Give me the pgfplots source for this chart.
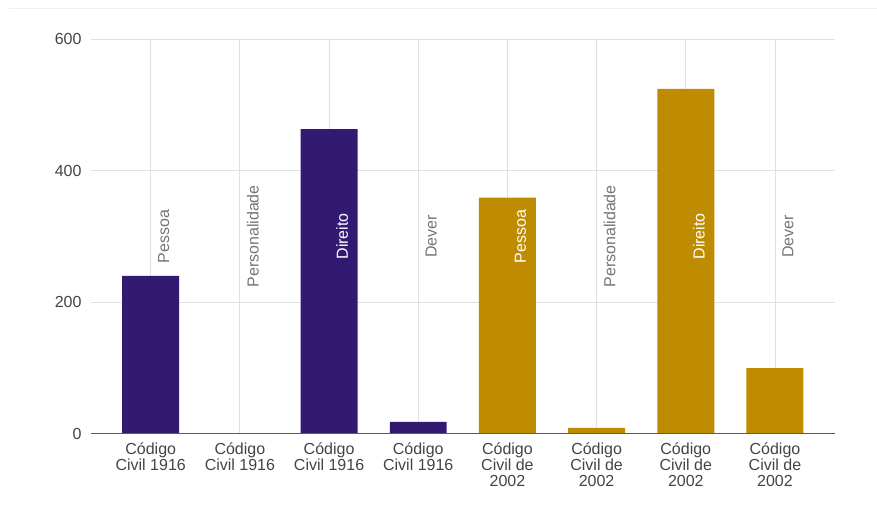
\documentclass[border=0pt]{standalone}
\usepackage{pgfplots}
\pgfplotsset{compat=1.18}
\usepackage{fontspec}
\setmainfont{Liberation Sans}
\definecolor{cpurple}{RGB}{50,26,114}
\definecolor{cgold}{RGB}{191,139,0}
\definecolor{gridc}{RGB}{224,224,224}
\definecolor{tickc}{RGB}{68,68,68}
\definecolor{lblc}{RGB}{117,117,117}
\definecolor{axc}{RGB}{90,90,90}
\begin{document}
\begin{tikzpicture}
\begin{axis}[name=ax, scale only axis, width=744pt, height=395pt,
  xmin=-0.67, xmax=7.67, ymin=0, ymax=600,
  ytick={0,200,400,600},
  xtick={0,...,7},
  xticklabels={{Código\\Civil 1916},{Código\\Civil 1916},{Código\\Civil 1916},{Código\\Civil 1916},{Código\\Civil de\\2002},{Código\\Civil de\\2002},{Código\\Civil de\\2002},{Código\\Civil de\\2002}},
  x tick label style={align=center, font=\fontsize{16}{16}\selectfont, text=tickc, yshift=-5pt},
  y tick label style={font=\fontsize{16}{16}\selectfont, text=tickc, xshift=-6pt},
  axis line style={draw=none},
  major tick length=0pt,
  grid=major, grid style={gridc, line width=0.8pt},
  ybar, bar width=57pt,
  /pgf/number format/assume math mode=true,
  clip=false,
]
\addplot[fill=cpurple, draw=none, bar shift=0pt] coordinates {(0,240) (1,0) (2,463) (3,18)};
\addplot[fill=cgold, draw=none, bar shift=0pt] coordinates {(4,359) (5,9) (6,524) (7,100)};
\draw[axc, line width=0.8pt] (axis cs:-0.67,0) -- (axis cs:7.67,0);
\addplot[draw=none, mark=none, bar shift=0pt, fill=none, nodes near coords, point meta=explicit symbolic,
  nodes near coords style={xshift=13pt, rotate=90, anchor=center, font=\fontsize{16}{16}\selectfont, text=lblc}]
  table[meta=label] {
x y label
0 300 Pessoa
1 300 Personalidade
3 300 Dever
5 300 Personalidade
7 300 Dever
};
\addplot[draw=none, mark=none, bar shift=0pt, fill=none, nodes near coords, point meta=explicit symbolic,
  nodes near coords style={xshift=13pt, rotate=90, anchor=center, font=\fontsize{16}{16}\selectfont, text=white}]
  table[meta=label] {
x y label
2 300 Direito
4 300 Pessoa
6 300 Direito
};
\end{axis}
\path ([xshift=-91pt,yshift=-72pt]ax.south west) rectangle ([xshift=42pt,yshift=39pt]ax.north east);
\draw[gridc!50, line width=0.6pt] ([xshift=-82pt,yshift=31pt]ax.north west) -- ([xshift=42pt,yshift=31pt]ax.north east);
\end{tikzpicture}
\end{document}
